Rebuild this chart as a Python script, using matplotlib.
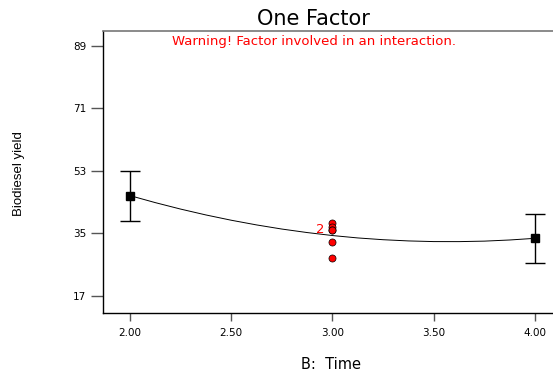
import matplotlib
matplotlib.use("Agg")
import matplotlib.pyplot as plt

plt.rcParams['font.family'] = ['DejaVu Sans']

# design points (mean prediction with error bars)
end_x = [2.0, 4.0]
end_y = [45.9, 33.6]
end_lo = [38.7, 26.4]
end_hi = [53.0, 40.5]

# model curve
curve_x = [2.0, 2.125, 2.25, 2.375, 2.5, 2.625, 2.75, 2.875, 3.0,
           3.125, 3.25, 3.375, 3.5, 3.625, 3.75, 3.875, 4.0]
curve_y = [45.9, 43.88, 42.02, 40.33, 38.81, 37.46, 36.27, 35.26, 34.4,
           33.71, 33.2, 32.85, 32.66, 32.65, 32.79, 33.12, 33.6]

# centre point runs
run_x = [3.0, 3.0, 3.0, 3.0, 3.0, 3.0]
run_y = [37.9, 37.0, 36.1, 36.1, 32.4, 27.9]

x_ticks = [2.0, 2.5, 3.0, 3.5, 4.0]
x_labels = ['2.00', '2.50', '3.00', '3.50', '4.00']
y_ticks = [17, 35, 53, 71, 89]

fig = plt.figure(figsize=(5.53, 3.73), dpi=100)
ax = fig.add_axes([0.1863, 0.1609, 0.8137, 0.756])
ax.set_xlim(1.867, 4.089)
ax.set_ylim(12.1, 93.3)

ax.plot(curve_x, curve_y, color='black', lw=0.7)

yerr = [[y - lo for y, lo in zip(end_y, end_lo)],
        [hi - y for y, hi in zip(end_y, end_hi)]]
ax.errorbar(end_x, end_y, yerr=yerr, fmt='s', color='black', ms=5.5,
            elinewidth=1, capsize=7, capthick=1)

ax.scatter(run_x, run_y, s=26, c='red', edgecolors='black', linewidths=0.5,
           zorder=3)
ax.text(2.963, 36.0, '2', color='red', fontsize=9.5, ha='right', va='center')

ax.set_xticks(x_ticks)
ax.set_xticklabels(x_labels, fontsize=7.5)
ax.set_yticks(y_ticks)
ax.set_yticklabels([str(t) for t in y_ticks], fontsize=7.5)
ax.tick_params(direction='out', width=1, color='#555555', pad=3)
ax.tick_params(axis='y', length=9)
ax.tick_params(axis='x', length=5.5, pad=5)

for s in ['left', 'bottom']:
    ax.spines[s].set_color('black')
    ax.spines[s].set_linewidth(1)
ax.spines['top'].set_color('#777777')
ax.spines['top'].set_linewidth(1.2)
ax.spines['right'].set_visible(False)

fig.text(0.568, 0.888, 'Warning! Factor involved in an interaction.',
         color='red', fontsize=9.5, ha='center', va='center')

fig.text(0.567, 0.95, 'One Factor', fontsize=15, ha='center', va='center')
fig.text(0.034, 0.535, 'Biodiesel yield', fontsize=9.5, rotation=90,
         ha='center', va='center', family='Liberation Sans')
fig.text(0.598, 0.022, 'B:  Time', fontsize=10.5, ha='center', va='center')

fig.savefig('out.png', dpi=100)
